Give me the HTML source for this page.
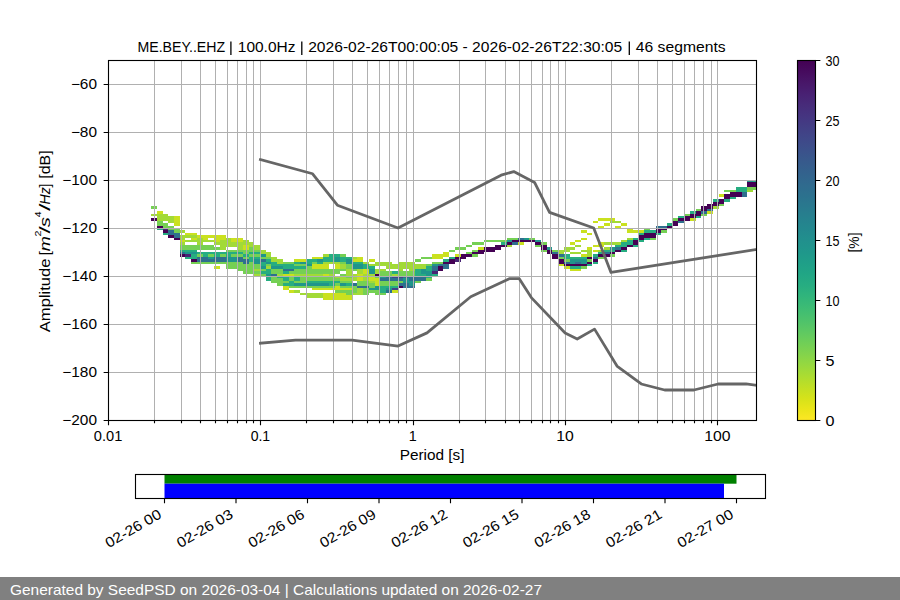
<!DOCTYPE html><html><head><meta charset="utf-8"><style>html,body{margin:0;padding:0;background:#fff;}svg{display:block}</style></head><body>
<svg width="900" height="600" viewBox="0 0 900 600" font-family='"Liberation Sans", sans-serif' font-size="13.9">
<rect width="900" height="600" fill="#fff"/>
<defs><clipPath id="axclip"><rect x="108.50" y="60.50" width="648.00" height="360.00"/></clipPath>
<linearGradient id="cbg" x1="0" y1="0" x2="0" y2="1"><stop offset="0.0000" stop-color="#440154"/><stop offset="0.0312" stop-color="#460b5e"/><stop offset="0.0625" stop-color="#481769"/><stop offset="0.0938" stop-color="#482173"/><stop offset="0.1250" stop-color="#472c7a"/><stop offset="0.1562" stop-color="#453581"/><stop offset="0.1875" stop-color="#423f85"/><stop offset="0.2188" stop-color="#3f4889"/><stop offset="0.2500" stop-color="#3b518b"/><stop offset="0.2812" stop-color="#375a8c"/><stop offset="0.3125" stop-color="#33628d"/><stop offset="0.3438" stop-color="#306a8e"/><stop offset="0.3750" stop-color="#2c718e"/><stop offset="0.4062" stop-color="#29798e"/><stop offset="0.4375" stop-color="#26818e"/><stop offset="0.4688" stop-color="#23888e"/><stop offset="0.5000" stop-color="#21908d"/><stop offset="0.5312" stop-color="#1f978b"/><stop offset="0.5625" stop-color="#1f9f88"/><stop offset="0.5938" stop-color="#21a685"/><stop offset="0.6250" stop-color="#27ad81"/><stop offset="0.6562" stop-color="#31b57b"/><stop offset="0.6875" stop-color="#3dbc74"/><stop offset="0.7188" stop-color="#4cc26c"/><stop offset="0.7500" stop-color="#5cc863"/><stop offset="0.7812" stop-color="#6ece58"/><stop offset="0.8125" stop-color="#81d34d"/><stop offset="0.8438" stop-color="#95d840"/><stop offset="0.8750" stop-color="#aadc32"/><stop offset="0.9062" stop-color="#c0df25"/><stop offset="0.9375" stop-color="#d5e21a"/><stop offset="0.9688" stop-color="#eae51a"/><stop offset="1.0000" stop-color="#fde725"/></linearGradient></defs>
<g clip-path="url(#axclip)">
<g shape-rendering="crispEdges"><rect x="151.08" y="206.40" width="5.73" height="2.40" fill="#75d054"/><rect x="151.08" y="213.60" width="5.73" height="2.40" fill="#a2da37"/><rect x="151.08" y="218.40" width="5.73" height="2.40" fill="#440154"/><rect x="156.81" y="211.20" width="5.73" height="2.40" fill="#cae11f"/><rect x="156.81" y="213.60" width="5.73" height="2.40" fill="#a2da37"/><rect x="156.81" y="216.00" width="5.73" height="2.40" fill="#a2da37"/><rect x="156.81" y="218.40" width="5.73" height="2.40" fill="#a2da37"/><rect x="156.81" y="220.80" width="5.73" height="2.40" fill="#75d054"/><rect x="156.81" y="223.20" width="5.73" height="2.40" fill="#75d054"/><rect x="156.81" y="225.60" width="5.73" height="2.40" fill="#440154"/><rect x="156.81" y="228.00" width="5.73" height="2.40" fill="#26ad81"/><rect x="162.54" y="213.60" width="5.73" height="2.40" fill="#a2da37"/><rect x="162.54" y="216.00" width="5.73" height="2.40" fill="#a2da37"/><rect x="162.54" y="218.40" width="5.73" height="2.40" fill="#a2da37"/><rect x="162.54" y="223.20" width="5.73" height="2.40" fill="#75d054"/><rect x="162.54" y="225.60" width="5.73" height="2.40" fill="#75d054"/><rect x="162.54" y="228.00" width="5.73" height="2.40" fill="#482475"/><rect x="162.54" y="230.40" width="5.73" height="2.40" fill="#440154"/><rect x="162.54" y="232.80" width="5.73" height="2.40" fill="#26ad81"/><rect x="168.27" y="216.00" width="5.73" height="2.40" fill="#a2da37"/><rect x="168.27" y="218.40" width="5.73" height="2.40" fill="#a2da37"/><rect x="168.27" y="220.80" width="5.73" height="2.40" fill="#a2da37"/><rect x="168.27" y="225.60" width="5.73" height="2.40" fill="#75d054"/><rect x="168.27" y="228.00" width="5.73" height="2.40" fill="#75d054"/><rect x="168.27" y="230.40" width="5.73" height="2.40" fill="#2e6f8e"/><rect x="168.27" y="232.80" width="5.73" height="2.40" fill="#2e6f8e"/><rect x="168.27" y="235.20" width="5.73" height="2.40" fill="#440154"/><rect x="174.01" y="216.00" width="5.73" height="2.40" fill="#cae11f"/><rect x="174.01" y="218.40" width="5.73" height="2.40" fill="#cae11f"/><rect x="174.01" y="220.80" width="5.73" height="2.40" fill="#cae11f"/><rect x="174.01" y="223.20" width="5.73" height="2.40" fill="#cae11f"/><rect x="174.01" y="228.00" width="5.73" height="2.40" fill="#75d054"/><rect x="174.01" y="230.40" width="5.73" height="2.40" fill="#75d054"/><rect x="174.01" y="232.80" width="5.73" height="2.40" fill="#2e6f8e"/><rect x="174.01" y="235.20" width="5.73" height="2.40" fill="#2e6f8e"/><rect x="174.01" y="237.60" width="5.73" height="2.40" fill="#440154"/><rect x="179.74" y="230.40" width="5.73" height="2.40" fill="#a2da37"/><rect x="179.74" y="235.20" width="5.73" height="2.40" fill="#a2da37"/><rect x="179.74" y="237.60" width="5.73" height="2.40" fill="#a2da37"/><rect x="179.74" y="240.00" width="5.73" height="2.40" fill="#cae11f"/><rect x="179.74" y="242.40" width="5.73" height="2.40" fill="#a2da37"/><rect x="179.74" y="244.80" width="5.73" height="2.40" fill="#75d054"/><rect x="179.74" y="247.20" width="5.73" height="2.40" fill="#75d054"/><rect x="179.74" y="249.60" width="5.73" height="2.40" fill="#26ad81"/><rect x="179.74" y="252.00" width="5.73" height="2.40" fill="#2e6f8e"/><rect x="179.74" y="254.40" width="5.73" height="2.40" fill="#440154"/><rect x="185.47" y="232.80" width="5.73" height="2.40" fill="#cae11f"/><rect x="185.47" y="235.20" width="5.73" height="2.40" fill="#a2da37"/><rect x="185.47" y="240.00" width="5.73" height="2.40" fill="#a2da37"/><rect x="185.47" y="244.80" width="5.73" height="2.40" fill="#75d054"/><rect x="185.47" y="247.20" width="5.73" height="2.40" fill="#75d054"/><rect x="185.47" y="249.60" width="5.73" height="2.40" fill="#26ad81"/><rect x="185.47" y="252.00" width="5.73" height="2.40" fill="#1f958b"/><rect x="185.47" y="254.40" width="5.73" height="2.40" fill="#482475"/><rect x="185.47" y="256.80" width="5.73" height="2.40" fill="#26ad81"/><rect x="191.20" y="232.80" width="5.73" height="2.40" fill="#cae11f"/><rect x="191.20" y="235.20" width="5.73" height="2.40" fill="#a2da37"/><rect x="191.20" y="237.60" width="5.73" height="2.40" fill="#cae11f"/><rect x="191.20" y="240.00" width="5.73" height="2.40" fill="#a2da37"/><rect x="191.20" y="244.80" width="5.73" height="2.40" fill="#75d054"/><rect x="191.20" y="247.20" width="5.73" height="2.40" fill="#75d054"/><rect x="191.20" y="249.60" width="5.73" height="2.40" fill="#26ad81"/><rect x="191.20" y="252.00" width="5.73" height="2.40" fill="#1f958b"/><rect x="191.20" y="254.40" width="5.73" height="2.40" fill="#26ad81"/><rect x="191.20" y="256.80" width="5.73" height="2.40" fill="#26ad81"/><rect x="191.20" y="259.20" width="5.73" height="2.40" fill="#440154"/><rect x="191.20" y="261.60" width="5.73" height="2.40" fill="#75d054"/><rect x="196.94" y="235.20" width="5.73" height="2.40" fill="#cae11f"/><rect x="196.94" y="237.60" width="5.73" height="2.40" fill="#a2da37"/><rect x="196.94" y="240.00" width="5.73" height="2.40" fill="#a2da37"/><rect x="196.94" y="242.40" width="5.73" height="2.40" fill="#a2da37"/><rect x="196.94" y="244.80" width="5.73" height="2.40" fill="#75d054"/><rect x="196.94" y="247.20" width="5.73" height="2.40" fill="#75d054"/><rect x="196.94" y="252.00" width="5.73" height="2.40" fill="#26ad81"/><rect x="196.94" y="254.40" width="5.73" height="2.40" fill="#75d054"/><rect x="196.94" y="256.80" width="5.73" height="2.40" fill="#2e6f8e"/><rect x="196.94" y="259.20" width="5.73" height="2.40" fill="#2e6f8e"/><rect x="196.94" y="261.60" width="5.73" height="2.40" fill="#75d054"/><rect x="202.67" y="235.20" width="5.73" height="2.40" fill="#cae11f"/><rect x="202.67" y="237.60" width="5.73" height="2.40" fill="#cae11f"/><rect x="202.67" y="240.00" width="5.73" height="2.40" fill="#a2da37"/><rect x="202.67" y="244.80" width="5.73" height="2.40" fill="#75d054"/><rect x="202.67" y="247.20" width="5.73" height="2.40" fill="#75d054"/><rect x="202.67" y="252.00" width="5.73" height="2.40" fill="#26ad81"/><rect x="202.67" y="254.40" width="5.73" height="2.40" fill="#26ad81"/><rect x="202.67" y="256.80" width="5.73" height="2.40" fill="#2e6f8e"/><rect x="202.67" y="259.20" width="5.73" height="2.40" fill="#2e6f8e"/><rect x="202.67" y="261.60" width="5.73" height="2.40" fill="#75d054"/><rect x="208.40" y="235.20" width="5.73" height="2.40" fill="#cae11f"/><rect x="208.40" y="240.00" width="5.73" height="2.40" fill="#a2da37"/><rect x="208.40" y="244.80" width="5.73" height="2.40" fill="#75d054"/><rect x="208.40" y="247.20" width="5.73" height="2.40" fill="#75d054"/><rect x="208.40" y="252.00" width="5.73" height="2.40" fill="#26ad81"/><rect x="208.40" y="254.40" width="5.73" height="2.40" fill="#75d054"/><rect x="208.40" y="256.80" width="5.73" height="2.40" fill="#1f958b"/><rect x="208.40" y="259.20" width="5.73" height="2.40" fill="#2e6f8e"/><rect x="208.40" y="261.60" width="5.73" height="2.40" fill="#75d054"/><rect x="214.14" y="235.20" width="5.73" height="2.40" fill="#cae11f"/><rect x="214.14" y="237.60" width="5.73" height="2.40" fill="#cae11f"/><rect x="214.14" y="240.00" width="5.73" height="2.40" fill="#cae11f"/><rect x="214.14" y="242.40" width="5.73" height="2.40" fill="#a2da37"/><rect x="214.14" y="247.20" width="5.73" height="2.40" fill="#75d054"/><rect x="214.14" y="252.00" width="5.73" height="2.40" fill="#26ad81"/><rect x="214.14" y="254.40" width="5.73" height="2.40" fill="#26ad81"/><rect x="214.14" y="256.80" width="5.73" height="2.40" fill="#2e6f8e"/><rect x="214.14" y="259.20" width="5.73" height="2.40" fill="#2e6f8e"/><rect x="214.14" y="261.60" width="5.73" height="2.40" fill="#75d054"/><rect x="214.14" y="266.40" width="5.73" height="2.40" fill="#cae11f"/><rect x="219.87" y="235.20" width="5.73" height="2.40" fill="#cae11f"/><rect x="219.87" y="237.60" width="5.73" height="2.40" fill="#cae11f"/><rect x="219.87" y="240.00" width="5.73" height="2.40" fill="#a2da37"/><rect x="219.87" y="242.40" width="5.73" height="2.40" fill="#a2da37"/><rect x="219.87" y="244.80" width="5.73" height="2.40" fill="#a2da37"/><rect x="219.87" y="247.20" width="5.73" height="2.40" fill="#a2da37"/><rect x="219.87" y="252.00" width="5.73" height="2.40" fill="#26ad81"/><rect x="219.87" y="254.40" width="5.73" height="2.40" fill="#75d054"/><rect x="219.87" y="256.80" width="5.73" height="2.40" fill="#2e6f8e"/><rect x="219.87" y="259.20" width="5.73" height="2.40" fill="#2e6f8e"/><rect x="219.87" y="261.60" width="5.73" height="2.40" fill="#75d054"/><rect x="225.60" y="237.60" width="5.73" height="2.40" fill="#a2da37"/><rect x="225.60" y="240.00" width="5.73" height="2.40" fill="#a2da37"/><rect x="225.60" y="242.40" width="5.73" height="2.40" fill="#a2da37"/><rect x="225.60" y="244.80" width="5.73" height="2.40" fill="#a2da37"/><rect x="225.60" y="249.60" width="5.73" height="2.40" fill="#75d054"/><rect x="225.60" y="252.00" width="5.73" height="2.40" fill="#26ad81"/><rect x="225.60" y="254.40" width="5.73" height="2.40" fill="#26ad81"/><rect x="225.60" y="256.80" width="5.73" height="2.40" fill="#1f958b"/><rect x="225.60" y="259.20" width="5.73" height="2.40" fill="#1f958b"/><rect x="225.60" y="261.60" width="5.73" height="2.40" fill="#75d054"/><rect x="225.60" y="264.00" width="5.73" height="2.40" fill="#75d054"/><rect x="225.60" y="266.40" width="5.73" height="2.40" fill="#75d054"/><rect x="231.33" y="237.60" width="5.73" height="2.40" fill="#cae11f"/><rect x="231.33" y="240.00" width="5.73" height="2.40" fill="#cae11f"/><rect x="231.33" y="242.40" width="5.73" height="2.40" fill="#a2da37"/><rect x="231.33" y="244.80" width="5.73" height="2.40" fill="#a2da37"/><rect x="231.33" y="249.60" width="5.73" height="2.40" fill="#75d054"/><rect x="231.33" y="252.00" width="5.73" height="2.40" fill="#26ad81"/><rect x="231.33" y="254.40" width="5.73" height="2.40" fill="#75d054"/><rect x="231.33" y="256.80" width="5.73" height="2.40" fill="#1f958b"/><rect x="231.33" y="259.20" width="5.73" height="2.40" fill="#1f958b"/><rect x="231.33" y="261.60" width="5.73" height="2.40" fill="#75d054"/><rect x="231.33" y="264.00" width="5.73" height="2.40" fill="#75d054"/><rect x="231.33" y="266.40" width="5.73" height="2.40" fill="#75d054"/><rect x="237.07" y="237.60" width="5.73" height="2.40" fill="#cae11f"/><rect x="237.07" y="240.00" width="5.73" height="2.40" fill="#cae11f"/><rect x="237.07" y="242.40" width="5.73" height="2.40" fill="#a2da37"/><rect x="237.07" y="244.80" width="5.73" height="2.40" fill="#a2da37"/><rect x="237.07" y="247.20" width="5.73" height="2.40" fill="#a2da37"/><rect x="237.07" y="249.60" width="5.73" height="2.40" fill="#75d054"/><rect x="237.07" y="252.00" width="5.73" height="2.40" fill="#26ad81"/><rect x="237.07" y="254.40" width="5.73" height="2.40" fill="#75d054"/><rect x="237.07" y="256.80" width="5.73" height="2.40" fill="#2e6f8e"/><rect x="237.07" y="259.20" width="5.73" height="2.40" fill="#2e6f8e"/><rect x="237.07" y="261.60" width="5.73" height="2.40" fill="#75d054"/><rect x="237.07" y="264.00" width="5.73" height="2.40" fill="#75d054"/><rect x="237.07" y="266.40" width="5.73" height="2.40" fill="#75d054"/><rect x="237.07" y="268.80" width="5.73" height="2.40" fill="#75d054"/><rect x="242.80" y="240.00" width="5.73" height="2.40" fill="#a2da37"/><rect x="242.80" y="242.40" width="5.73" height="2.40" fill="#a2da37"/><rect x="242.80" y="244.80" width="5.73" height="2.40" fill="#cae11f"/><rect x="242.80" y="247.20" width="5.73" height="2.40" fill="#cae11f"/><rect x="242.80" y="249.60" width="5.73" height="2.40" fill="#75d054"/><rect x="242.80" y="252.00" width="5.73" height="2.40" fill="#75d054"/><rect x="242.80" y="254.40" width="5.73" height="2.40" fill="#26ad81"/><rect x="242.80" y="256.80" width="5.73" height="2.40" fill="#75d054"/><rect x="242.80" y="259.20" width="5.73" height="2.40" fill="#2e6f8e"/><rect x="242.80" y="261.60" width="5.73" height="2.40" fill="#2e6f8e"/><rect x="242.80" y="264.00" width="5.73" height="2.40" fill="#75d054"/><rect x="242.80" y="266.40" width="5.73" height="2.40" fill="#75d054"/><rect x="242.80" y="268.80" width="5.73" height="2.40" fill="#75d054"/><rect x="242.80" y="271.20" width="5.73" height="2.40" fill="#75d054"/><rect x="248.53" y="242.40" width="5.73" height="2.40" fill="#a2da37"/><rect x="248.53" y="244.80" width="5.73" height="2.40" fill="#a2da37"/><rect x="248.53" y="247.20" width="5.73" height="2.40" fill="#75d054"/><rect x="248.53" y="249.60" width="5.73" height="2.40" fill="#75d054"/><rect x="248.53" y="252.00" width="5.73" height="2.40" fill="#26ad81"/><rect x="248.53" y="254.40" width="5.73" height="2.40" fill="#75d054"/><rect x="248.53" y="256.80" width="5.73" height="2.40" fill="#26ad81"/><rect x="248.53" y="259.20" width="5.73" height="2.40" fill="#26ad81"/><rect x="248.53" y="261.60" width="5.73" height="2.40" fill="#75d054"/><rect x="248.53" y="264.00" width="5.73" height="2.40" fill="#75d054"/><rect x="248.53" y="266.40" width="5.73" height="2.40" fill="#75d054"/><rect x="248.53" y="268.80" width="5.73" height="2.40" fill="#75d054"/><rect x="248.53" y="271.20" width="5.73" height="2.40" fill="#75d054"/><rect x="254.26" y="244.80" width="5.73" height="2.40" fill="#a2da37"/><rect x="254.26" y="247.20" width="5.73" height="2.40" fill="#a2da37"/><rect x="254.26" y="249.60" width="5.73" height="2.40" fill="#75d054"/><rect x="254.26" y="252.00" width="5.73" height="2.40" fill="#26ad81"/><rect x="254.26" y="254.40" width="5.73" height="2.40" fill="#75d054"/><rect x="254.26" y="256.80" width="5.73" height="2.40" fill="#26ad81"/><rect x="254.26" y="259.20" width="5.73" height="2.40" fill="#1f958b"/><rect x="254.26" y="261.60" width="5.73" height="2.40" fill="#1f958b"/><rect x="254.26" y="264.00" width="5.73" height="2.40" fill="#75d054"/><rect x="254.26" y="266.40" width="5.73" height="2.40" fill="#75d054"/><rect x="254.26" y="268.80" width="5.73" height="2.40" fill="#a2da37"/><rect x="254.26" y="271.20" width="5.73" height="2.40" fill="#75d054"/><rect x="254.26" y="273.60" width="5.73" height="2.40" fill="#a2da37"/><rect x="260.00" y="249.60" width="5.73" height="2.40" fill="#a2da37"/><rect x="260.00" y="252.00" width="5.73" height="2.40" fill="#a2da37"/><rect x="260.00" y="254.40" width="5.73" height="2.40" fill="#1f958b"/><rect x="260.00" y="256.80" width="5.73" height="2.40" fill="#75d054"/><rect x="260.00" y="259.20" width="5.73" height="2.40" fill="#2e6f8e"/><rect x="260.00" y="261.60" width="5.73" height="2.40" fill="#26ad81"/><rect x="260.00" y="264.00" width="5.73" height="2.40" fill="#26ad81"/><rect x="260.00" y="266.40" width="5.73" height="2.40" fill="#1f958b"/><rect x="260.00" y="268.80" width="5.73" height="2.40" fill="#75d054"/><rect x="260.00" y="271.20" width="5.73" height="2.40" fill="#26ad81"/><rect x="260.00" y="273.60" width="5.73" height="2.40" fill="#75d054"/><rect x="265.73" y="252.00" width="5.73" height="2.40" fill="#a2da37"/><rect x="265.73" y="254.40" width="5.73" height="2.40" fill="#a2da37"/><rect x="265.73" y="256.80" width="5.73" height="2.40" fill="#75d054"/><rect x="265.73" y="259.20" width="5.73" height="2.40" fill="#26ad81"/><rect x="265.73" y="261.60" width="5.73" height="2.40" fill="#1f958b"/><rect x="265.73" y="264.00" width="5.73" height="2.40" fill="#75d054"/><rect x="265.73" y="266.40" width="5.73" height="2.40" fill="#a2da37"/><rect x="265.73" y="268.80" width="5.73" height="2.40" fill="#26ad81"/><rect x="265.73" y="271.20" width="5.73" height="2.40" fill="#26ad81"/><rect x="265.73" y="273.60" width="5.73" height="2.40" fill="#1f958b"/><rect x="265.73" y="276.00" width="5.73" height="2.40" fill="#26ad81"/><rect x="265.73" y="278.40" width="5.73" height="2.40" fill="#26ad81"/><rect x="271.46" y="256.80" width="5.73" height="2.40" fill="#a2da37"/><rect x="271.46" y="259.20" width="5.73" height="2.40" fill="#a2da37"/><rect x="271.46" y="261.60" width="5.73" height="2.40" fill="#26ad81"/><rect x="271.46" y="264.00" width="5.73" height="2.40" fill="#26ad81"/><rect x="271.46" y="266.40" width="5.73" height="2.40" fill="#1f958b"/><rect x="271.46" y="268.80" width="5.73" height="2.40" fill="#75d054"/><rect x="271.46" y="271.20" width="5.73" height="2.40" fill="#75d054"/><rect x="271.46" y="273.60" width="5.73" height="2.40" fill="#2e6f8e"/><rect x="271.46" y="276.00" width="5.73" height="2.40" fill="#75d054"/><rect x="271.46" y="278.40" width="5.73" height="2.40" fill="#75d054"/><rect x="271.46" y="280.80" width="5.73" height="2.40" fill="#75d054"/><rect x="277.20" y="259.20" width="5.73" height="2.40" fill="#a2da37"/><rect x="277.20" y="261.60" width="5.73" height="2.40" fill="#a2da37"/><rect x="277.20" y="264.00" width="5.73" height="2.40" fill="#26ad81"/><rect x="277.20" y="266.40" width="5.73" height="2.40" fill="#1f958b"/><rect x="277.20" y="268.80" width="5.73" height="2.40" fill="#75d054"/><rect x="277.20" y="271.20" width="5.73" height="2.40" fill="#75d054"/><rect x="277.20" y="273.60" width="5.73" height="2.40" fill="#a2da37"/><rect x="277.20" y="276.00" width="5.73" height="2.40" fill="#26ad81"/><rect x="277.20" y="278.40" width="5.73" height="2.40" fill="#75d054"/><rect x="277.20" y="280.80" width="5.73" height="2.40" fill="#75d054"/><rect x="277.20" y="283.20" width="5.73" height="2.40" fill="#75d054"/><rect x="282.93" y="261.60" width="5.73" height="2.40" fill="#75d054"/><rect x="282.93" y="264.00" width="5.73" height="2.40" fill="#26ad81"/><rect x="282.93" y="266.40" width="5.73" height="2.40" fill="#26ad81"/><rect x="282.93" y="268.80" width="5.73" height="2.40" fill="#2e6f8e"/><rect x="282.93" y="271.20" width="5.73" height="2.40" fill="#26ad81"/><rect x="282.93" y="273.60" width="5.73" height="2.40" fill="#cae11f"/><rect x="282.93" y="276.00" width="5.73" height="2.40" fill="#26ad81"/><rect x="282.93" y="278.40" width="5.73" height="2.40" fill="#26ad81"/><rect x="282.93" y="280.80" width="5.73" height="2.40" fill="#75d054"/><rect x="282.93" y="283.20" width="5.73" height="2.40" fill="#26ad81"/><rect x="282.93" y="285.60" width="5.73" height="2.40" fill="#cae11f"/><rect x="282.93" y="288.00" width="5.73" height="2.40" fill="#cae11f"/><rect x="288.66" y="261.60" width="5.73" height="2.40" fill="#75d054"/><rect x="288.66" y="264.00" width="5.73" height="2.40" fill="#26ad81"/><rect x="288.66" y="266.40" width="5.73" height="2.40" fill="#26ad81"/><rect x="288.66" y="268.80" width="5.73" height="2.40" fill="#2e6f8e"/><rect x="288.66" y="271.20" width="5.73" height="2.40" fill="#75d054"/><rect x="288.66" y="273.60" width="5.73" height="2.40" fill="#cae11f"/><rect x="288.66" y="276.00" width="5.73" height="2.40" fill="#75d054"/><rect x="288.66" y="278.40" width="5.73" height="2.40" fill="#75d054"/><rect x="288.66" y="280.80" width="5.73" height="2.40" fill="#26ad81"/><rect x="288.66" y="283.20" width="5.73" height="2.40" fill="#26ad81"/><rect x="288.66" y="285.60" width="5.73" height="2.40" fill="#75d054"/><rect x="288.66" y="290.40" width="5.73" height="2.40" fill="#cae11f"/><rect x="294.39" y="259.20" width="5.73" height="2.40" fill="#cae11f"/><rect x="294.39" y="261.60" width="5.73" height="2.40" fill="#26ad81"/><rect x="294.39" y="264.00" width="5.73" height="2.40" fill="#75d054"/><rect x="294.39" y="266.40" width="5.73" height="2.40" fill="#26ad81"/><rect x="294.39" y="268.80" width="5.73" height="2.40" fill="#75d054"/><rect x="294.39" y="271.20" width="5.73" height="2.40" fill="#75d054"/><rect x="294.39" y="273.60" width="5.73" height="2.40" fill="#a2da37"/><rect x="294.39" y="276.00" width="5.73" height="2.40" fill="#26ad81"/><rect x="294.39" y="278.40" width="5.73" height="2.40" fill="#26ad81"/><rect x="294.39" y="280.80" width="5.73" height="2.40" fill="#75d054"/><rect x="294.39" y="283.20" width="5.73" height="2.40" fill="#1f958b"/><rect x="294.39" y="285.60" width="5.73" height="2.40" fill="#75d054"/><rect x="294.39" y="290.40" width="5.73" height="2.40" fill="#a2da37"/><rect x="300.13" y="259.20" width="5.73" height="2.40" fill="#cae11f"/><rect x="300.13" y="261.60" width="5.73" height="2.40" fill="#1f958b"/><rect x="300.13" y="264.00" width="5.73" height="2.40" fill="#75d054"/><rect x="300.13" y="266.40" width="5.73" height="2.40" fill="#26ad81"/><rect x="300.13" y="268.80" width="5.73" height="2.40" fill="#75d054"/><rect x="300.13" y="271.20" width="5.73" height="2.40" fill="#75d054"/><rect x="300.13" y="273.60" width="5.73" height="2.40" fill="#a2da37"/><rect x="300.13" y="276.00" width="5.73" height="2.40" fill="#75d054"/><rect x="300.13" y="278.40" width="5.73" height="2.40" fill="#75d054"/><rect x="300.13" y="280.80" width="5.73" height="2.40" fill="#75d054"/><rect x="300.13" y="283.20" width="5.73" height="2.40" fill="#1f958b"/><rect x="300.13" y="285.60" width="5.73" height="2.40" fill="#75d054"/><rect x="300.13" y="292.80" width="5.73" height="2.40" fill="#a2da37"/><rect x="305.86" y="259.20" width="5.73" height="2.40" fill="#26ad81"/><rect x="305.86" y="261.60" width="5.73" height="2.40" fill="#26ad81"/><rect x="305.86" y="264.00" width="5.73" height="2.40" fill="#1f958b"/><rect x="305.86" y="266.40" width="5.73" height="2.40" fill="#75d054"/><rect x="305.86" y="268.80" width="5.73" height="2.40" fill="#75d054"/><rect x="305.86" y="271.20" width="5.73" height="2.40" fill="#75d054"/><rect x="305.86" y="273.60" width="5.73" height="2.40" fill="#a2da37"/><rect x="305.86" y="276.00" width="5.73" height="2.40" fill="#75d054"/><rect x="305.86" y="278.40" width="5.73" height="2.40" fill="#75d054"/><rect x="305.86" y="280.80" width="5.73" height="2.40" fill="#26ad81"/><rect x="305.86" y="283.20" width="5.73" height="2.40" fill="#1f958b"/><rect x="305.86" y="285.60" width="5.73" height="2.40" fill="#75d054"/><rect x="305.86" y="292.80" width="5.73" height="2.40" fill="#a2da37"/><rect x="305.86" y="295.20" width="5.73" height="2.40" fill="#a2da37"/><rect x="311.59" y="256.80" width="5.73" height="2.40" fill="#cae11f"/><rect x="311.59" y="259.20" width="5.73" height="2.40" fill="#26ad81"/><rect x="311.59" y="261.60" width="5.73" height="2.40" fill="#75d054"/><rect x="311.59" y="264.00" width="5.73" height="2.40" fill="#cae11f"/><rect x="311.59" y="266.40" width="5.73" height="2.40" fill="#cae11f"/><rect x="311.59" y="268.80" width="5.73" height="2.40" fill="#75d054"/><rect x="311.59" y="271.20" width="5.73" height="2.40" fill="#75d054"/><rect x="311.59" y="273.60" width="5.73" height="2.40" fill="#a2da37"/><rect x="311.59" y="276.00" width="5.73" height="2.40" fill="#75d054"/><rect x="311.59" y="278.40" width="5.73" height="2.40" fill="#75d054"/><rect x="311.59" y="280.80" width="5.73" height="2.40" fill="#26ad81"/><rect x="311.59" y="283.20" width="5.73" height="2.40" fill="#1f958b"/><rect x="311.59" y="285.60" width="5.73" height="2.40" fill="#75d054"/><rect x="311.59" y="288.00" width="5.73" height="2.40" fill="#cae11f"/><rect x="311.59" y="292.80" width="5.73" height="2.40" fill="#a2da37"/><rect x="311.59" y="295.20" width="5.73" height="2.40" fill="#a2da37"/><rect x="317.33" y="256.80" width="5.73" height="2.40" fill="#cae11f"/><rect x="317.33" y="259.20" width="5.73" height="2.40" fill="#1f958b"/><rect x="317.33" y="261.60" width="5.73" height="2.40" fill="#26ad81"/><rect x="317.33" y="264.00" width="5.73" height="2.40" fill="#cae11f"/><rect x="317.33" y="266.40" width="5.73" height="2.40" fill="#cae11f"/><rect x="317.33" y="268.80" width="5.73" height="2.40" fill="#75d054"/><rect x="317.33" y="271.20" width="5.73" height="2.40" fill="#75d054"/><rect x="317.33" y="273.60" width="5.73" height="2.40" fill="#a2da37"/><rect x="317.33" y="276.00" width="5.73" height="2.40" fill="#75d054"/><rect x="317.33" y="278.40" width="5.73" height="2.40" fill="#75d054"/><rect x="317.33" y="280.80" width="5.73" height="2.40" fill="#26ad81"/><rect x="317.33" y="283.20" width="5.73" height="2.40" fill="#1f958b"/><rect x="317.33" y="285.60" width="5.73" height="2.40" fill="#75d054"/><rect x="317.33" y="288.00" width="5.73" height="2.40" fill="#cae11f"/><rect x="317.33" y="292.80" width="5.73" height="2.40" fill="#a2da37"/><rect x="317.33" y="295.20" width="5.73" height="2.40" fill="#a2da37"/><rect x="323.06" y="254.40" width="5.73" height="2.40" fill="#a2da37"/><rect x="323.06" y="256.80" width="5.73" height="2.40" fill="#26ad81"/><rect x="323.06" y="259.20" width="5.73" height="2.40" fill="#26ad81"/><rect x="323.06" y="261.60" width="5.73" height="2.40" fill="#a2da37"/><rect x="323.06" y="264.00" width="5.73" height="2.40" fill="#cae11f"/><rect x="323.06" y="266.40" width="5.73" height="2.40" fill="#cae11f"/><rect x="323.06" y="268.80" width="5.73" height="2.40" fill="#75d054"/><rect x="323.06" y="271.20" width="5.73" height="2.40" fill="#75d054"/><rect x="323.06" y="273.60" width="5.73" height="2.40" fill="#cae11f"/><rect x="323.06" y="276.00" width="5.73" height="2.40" fill="#75d054"/><rect x="323.06" y="278.40" width="5.73" height="2.40" fill="#75d054"/><rect x="323.06" y="280.80" width="5.73" height="2.40" fill="#26ad81"/><rect x="323.06" y="283.20" width="5.73" height="2.40" fill="#1f958b"/><rect x="323.06" y="285.60" width="5.73" height="2.40" fill="#75d054"/><rect x="323.06" y="288.00" width="5.73" height="2.40" fill="#cae11f"/><rect x="323.06" y="292.80" width="5.73" height="2.40" fill="#cae11f"/><rect x="323.06" y="295.20" width="5.73" height="2.40" fill="#cae11f"/><rect x="323.06" y="297.60" width="5.73" height="2.40" fill="#cae11f"/><rect x="328.79" y="254.40" width="5.73" height="2.40" fill="#26ad81"/><rect x="328.79" y="256.80" width="5.73" height="2.40" fill="#26ad81"/><rect x="328.79" y="259.20" width="5.73" height="2.40" fill="#26ad81"/><rect x="328.79" y="261.60" width="5.73" height="2.40" fill="#a2da37"/><rect x="328.79" y="268.80" width="5.73" height="2.40" fill="#75d054"/><rect x="328.79" y="271.20" width="5.73" height="2.40" fill="#75d054"/><rect x="328.79" y="273.60" width="5.73" height="2.40" fill="#a2da37"/><rect x="328.79" y="276.00" width="5.73" height="2.40" fill="#75d054"/><rect x="328.79" y="278.40" width="5.73" height="2.40" fill="#75d054"/><rect x="328.79" y="280.80" width="5.73" height="2.40" fill="#26ad81"/><rect x="328.79" y="283.20" width="5.73" height="2.40" fill="#26ad81"/><rect x="328.79" y="285.60" width="5.73" height="2.40" fill="#75d054"/><rect x="328.79" y="288.00" width="5.73" height="2.40" fill="#cae11f"/><rect x="328.79" y="292.80" width="5.73" height="2.40" fill="#cae11f"/><rect x="328.79" y="295.20" width="5.73" height="2.40" fill="#cae11f"/><rect x="328.79" y="297.60" width="5.73" height="2.40" fill="#cae11f"/><rect x="334.52" y="254.40" width="5.73" height="2.40" fill="#26ad81"/><rect x="334.52" y="256.80" width="5.73" height="2.40" fill="#1f958b"/><rect x="334.52" y="259.20" width="5.73" height="2.40" fill="#1f958b"/><rect x="334.52" y="261.60" width="5.73" height="2.40" fill="#a2da37"/><rect x="334.52" y="264.00" width="5.73" height="2.40" fill="#cae11f"/><rect x="334.52" y="266.40" width="5.73" height="2.40" fill="#cae11f"/><rect x="334.52" y="268.80" width="5.73" height="2.40" fill="#75d054"/><rect x="334.52" y="271.20" width="5.73" height="2.40" fill="#75d054"/><rect x="334.52" y="276.00" width="5.73" height="2.40" fill="#a2da37"/><rect x="334.52" y="278.40" width="5.73" height="2.40" fill="#75d054"/><rect x="334.52" y="280.80" width="5.73" height="2.40" fill="#26ad81"/><rect x="334.52" y="283.20" width="5.73" height="2.40" fill="#75d054"/><rect x="334.52" y="285.60" width="5.73" height="2.40" fill="#cae11f"/><rect x="334.52" y="288.00" width="5.73" height="2.40" fill="#cae11f"/><rect x="334.52" y="290.40" width="5.73" height="2.40" fill="#75d054"/><rect x="334.52" y="292.80" width="5.73" height="2.40" fill="#cae11f"/><rect x="334.52" y="295.20" width="5.73" height="2.40" fill="#cae11f"/><rect x="334.52" y="297.60" width="5.73" height="2.40" fill="#cae11f"/><rect x="340.26" y="254.40" width="5.73" height="2.40" fill="#75d054"/><rect x="340.26" y="256.80" width="5.73" height="2.40" fill="#26ad81"/><rect x="340.26" y="259.20" width="5.73" height="2.40" fill="#26ad81"/><rect x="340.26" y="261.60" width="5.73" height="2.40" fill="#75d054"/><rect x="340.26" y="264.00" width="5.73" height="2.40" fill="#a2da37"/><rect x="340.26" y="266.40" width="5.73" height="2.40" fill="#a2da37"/><rect x="340.26" y="268.80" width="5.73" height="2.40" fill="#75d054"/><rect x="340.26" y="273.60" width="5.73" height="2.40" fill="#75d054"/><rect x="340.26" y="276.00" width="5.73" height="2.40" fill="#a2da37"/><rect x="340.26" y="278.40" width="5.73" height="2.40" fill="#a2da37"/><rect x="340.26" y="280.80" width="5.73" height="2.40" fill="#75d054"/><rect x="340.26" y="283.20" width="5.73" height="2.40" fill="#1f958b"/><rect x="340.26" y="285.60" width="5.73" height="2.40" fill="#75d054"/><rect x="340.26" y="288.00" width="5.73" height="2.40" fill="#cae11f"/><rect x="340.26" y="290.40" width="5.73" height="2.40" fill="#75d054"/><rect x="340.26" y="292.80" width="5.73" height="2.40" fill="#cae11f"/><rect x="340.26" y="295.20" width="5.73" height="2.40" fill="#cae11f"/><rect x="340.26" y="297.60" width="5.73" height="2.40" fill="#cae11f"/><rect x="345.99" y="256.80" width="5.73" height="2.40" fill="#26ad81"/><rect x="345.99" y="259.20" width="5.73" height="2.40" fill="#1f958b"/><rect x="345.99" y="261.60" width="5.73" height="2.40" fill="#1f958b"/><rect x="345.99" y="264.00" width="5.73" height="2.40" fill="#75d054"/><rect x="345.99" y="266.40" width="5.73" height="2.40" fill="#75d054"/><rect x="345.99" y="268.80" width="5.73" height="2.40" fill="#a2da37"/><rect x="345.99" y="271.20" width="5.73" height="2.40" fill="#a2da37"/><rect x="345.99" y="273.60" width="5.73" height="2.40" fill="#a2da37"/><rect x="345.99" y="276.00" width="5.73" height="2.40" fill="#75d054"/><rect x="345.99" y="278.40" width="5.73" height="2.40" fill="#a2da37"/><rect x="345.99" y="280.80" width="5.73" height="2.40" fill="#75d054"/><rect x="345.99" y="283.20" width="5.73" height="2.40" fill="#26ad81"/><rect x="345.99" y="285.60" width="5.73" height="2.40" fill="#75d054"/><rect x="345.99" y="288.00" width="5.73" height="2.40" fill="#cae11f"/><rect x="345.99" y="290.40" width="5.73" height="2.40" fill="#75d054"/><rect x="345.99" y="292.80" width="5.73" height="2.40" fill="#75d054"/><rect x="345.99" y="295.20" width="5.73" height="2.40" fill="#cae11f"/><rect x="345.99" y="297.60" width="5.73" height="2.40" fill="#cae11f"/><rect x="351.72" y="256.80" width="5.73" height="2.40" fill="#a2da37"/><rect x="351.72" y="259.20" width="5.73" height="2.40" fill="#cae11f"/><rect x="351.72" y="261.60" width="5.73" height="2.40" fill="#26ad81"/><rect x="351.72" y="264.00" width="5.73" height="2.40" fill="#1f958b"/><rect x="351.72" y="266.40" width="5.73" height="2.40" fill="#1f958b"/><rect x="351.72" y="268.80" width="5.73" height="2.40" fill="#75d054"/><rect x="351.72" y="273.60" width="5.73" height="2.40" fill="#a2da37"/><rect x="351.72" y="276.00" width="5.73" height="2.40" fill="#a2da37"/><rect x="351.72" y="278.40" width="5.73" height="2.40" fill="#a2da37"/><rect x="351.72" y="283.20" width="5.73" height="2.40" fill="#2e6f8e"/><rect x="351.72" y="285.60" width="5.73" height="2.40" fill="#75d054"/><rect x="351.72" y="288.00" width="5.73" height="2.40" fill="#75d054"/><rect x="351.72" y="290.40" width="5.73" height="2.40" fill="#75d054"/><rect x="351.72" y="292.80" width="5.73" height="2.40" fill="#a2da37"/><rect x="357.45" y="256.80" width="5.73" height="2.40" fill="#cae11f"/><rect x="357.45" y="259.20" width="5.73" height="2.40" fill="#cae11f"/><rect x="357.45" y="261.60" width="5.73" height="2.40" fill="#26ad81"/><rect x="357.45" y="264.00" width="5.73" height="2.40" fill="#1f958b"/><rect x="357.45" y="266.40" width="5.73" height="2.40" fill="#1f958b"/><rect x="357.45" y="268.80" width="5.73" height="2.40" fill="#a2da37"/><rect x="357.45" y="271.20" width="5.73" height="2.40" fill="#a2da37"/><rect x="357.45" y="273.60" width="5.73" height="2.40" fill="#cae11f"/><rect x="357.45" y="276.00" width="5.73" height="2.40" fill="#cae11f"/><rect x="357.45" y="278.40" width="5.73" height="2.40" fill="#cae11f"/><rect x="357.45" y="280.80" width="5.73" height="2.40" fill="#75d054"/><rect x="357.45" y="283.20" width="5.73" height="2.40" fill="#75d054"/><rect x="357.45" y="285.60" width="5.73" height="2.40" fill="#2e6f8e"/><rect x="357.45" y="288.00" width="5.73" height="2.40" fill="#a2da37"/><rect x="357.45" y="290.40" width="5.73" height="2.40" fill="#a2da37"/><rect x="357.45" y="292.80" width="5.73" height="2.40" fill="#a2da37"/><rect x="363.19" y="261.60" width="5.73" height="2.40" fill="#a2da37"/><rect x="363.19" y="264.00" width="5.73" height="2.40" fill="#26ad81"/><rect x="363.19" y="266.40" width="5.73" height="2.40" fill="#26ad81"/><rect x="363.19" y="268.80" width="5.73" height="2.40" fill="#cae11f"/><rect x="363.19" y="271.20" width="5.73" height="2.40" fill="#cae11f"/><rect x="363.19" y="273.60" width="5.73" height="2.40" fill="#a2da37"/><rect x="363.19" y="276.00" width="5.73" height="2.40" fill="#a2da37"/><rect x="363.19" y="278.40" width="5.73" height="2.40" fill="#a2da37"/><rect x="363.19" y="280.80" width="5.73" height="2.40" fill="#75d054"/><rect x="363.19" y="283.20" width="5.73" height="2.40" fill="#75d054"/><rect x="363.19" y="285.60" width="5.73" height="2.40" fill="#2e6f8e"/><rect x="363.19" y="288.00" width="5.73" height="2.40" fill="#75d054"/><rect x="363.19" y="290.40" width="5.73" height="2.40" fill="#75d054"/><rect x="363.19" y="292.80" width="5.73" height="2.40" fill="#75d054"/><rect x="368.92" y="259.20" width="5.73" height="2.40" fill="#cae11f"/><rect x="368.92" y="264.00" width="5.73" height="2.40" fill="#a2da37"/><rect x="368.92" y="266.40" width="5.73" height="2.40" fill="#26ad81"/><rect x="368.92" y="268.80" width="5.73" height="2.40" fill="#1f958b"/><rect x="368.92" y="271.20" width="5.73" height="2.40" fill="#1f958b"/><rect x="368.92" y="273.60" width="5.73" height="2.40" fill="#a2da37"/><rect x="368.92" y="276.00" width="5.73" height="2.40" fill="#cae11f"/><rect x="368.92" y="278.40" width="5.73" height="2.40" fill="#cae11f"/><rect x="368.92" y="280.80" width="5.73" height="2.40" fill="#a2da37"/><rect x="368.92" y="283.20" width="5.73" height="2.40" fill="#75d054"/><rect x="368.92" y="285.60" width="5.73" height="2.40" fill="#75d054"/><rect x="368.92" y="288.00" width="5.73" height="2.40" fill="#1f958b"/><rect x="368.92" y="290.40" width="5.73" height="2.40" fill="#75d054"/><rect x="374.65" y="261.60" width="5.73" height="2.40" fill="#a2da37"/><rect x="374.65" y="264.00" width="5.73" height="2.40" fill="#a2da37"/><rect x="374.65" y="268.80" width="5.73" height="2.40" fill="#a2da37"/><rect x="374.65" y="271.20" width="5.73" height="2.40" fill="#a2da37"/><rect x="374.65" y="273.60" width="5.73" height="2.40" fill="#440154"/><rect x="374.65" y="276.00" width="5.73" height="2.40" fill="#75d054"/><rect x="374.65" y="278.40" width="5.73" height="2.40" fill="#cae11f"/><rect x="374.65" y="280.80" width="5.73" height="2.40" fill="#cae11f"/><rect x="374.65" y="283.20" width="5.73" height="2.40" fill="#cae11f"/><rect x="374.65" y="285.60" width="5.73" height="2.40" fill="#1f958b"/><rect x="374.65" y="288.00" width="5.73" height="2.40" fill="#1f958b"/><rect x="374.65" y="290.40" width="5.73" height="2.40" fill="#75d054"/><rect x="374.65" y="292.80" width="5.73" height="2.40" fill="#75d054"/><rect x="380.39" y="261.60" width="5.73" height="2.40" fill="#a2da37"/><rect x="380.39" y="264.00" width="5.73" height="2.40" fill="#a2da37"/><rect x="380.39" y="268.80" width="5.73" height="2.40" fill="#a2da37"/><rect x="380.39" y="271.20" width="5.73" height="2.40" fill="#75d054"/><rect x="380.39" y="273.60" width="5.73" height="2.40" fill="#75d054"/><rect x="380.39" y="276.00" width="5.73" height="2.40" fill="#1f958b"/><rect x="380.39" y="278.40" width="5.73" height="2.40" fill="#2e6f8e"/><rect x="380.39" y="280.80" width="5.73" height="2.40" fill="#75d054"/><rect x="380.39" y="283.20" width="5.73" height="2.40" fill="#75d054"/><rect x="380.39" y="285.60" width="5.73" height="2.40" fill="#26ad81"/><rect x="380.39" y="288.00" width="5.73" height="2.40" fill="#26ad81"/><rect x="380.39" y="290.40" width="5.73" height="2.40" fill="#26ad81"/><rect x="380.39" y="292.80" width="5.73" height="2.40" fill="#75d054"/><rect x="386.12" y="261.60" width="5.73" height="2.40" fill="#a2da37"/><rect x="386.12" y="264.00" width="5.73" height="2.40" fill="#a2da37"/><rect x="386.12" y="266.40" width="5.73" height="2.40" fill="#a2da37"/><rect x="386.12" y="271.20" width="5.73" height="2.40" fill="#75d054"/><rect x="386.12" y="273.60" width="5.73" height="2.40" fill="#75d054"/><rect x="386.12" y="276.00" width="5.73" height="2.40" fill="#2e6f8e"/><rect x="386.12" y="278.40" width="5.73" height="2.40" fill="#2e6f8e"/><rect x="386.12" y="280.80" width="5.73" height="2.40" fill="#75d054"/><rect x="386.12" y="283.20" width="5.73" height="2.40" fill="#75d054"/><rect x="386.12" y="285.60" width="5.73" height="2.40" fill="#26ad81"/><rect x="386.12" y="288.00" width="5.73" height="2.40" fill="#1f958b"/><rect x="386.12" y="290.40" width="5.73" height="2.40" fill="#2e6f8e"/><rect x="391.85" y="264.00" width="5.73" height="2.40" fill="#a2da37"/><rect x="391.85" y="266.40" width="5.73" height="2.40" fill="#a2da37"/><rect x="391.85" y="271.20" width="5.73" height="2.40" fill="#26ad81"/><rect x="391.85" y="273.60" width="5.73" height="2.40" fill="#a2da37"/><rect x="391.85" y="276.00" width="5.73" height="2.40" fill="#414487"/><rect x="391.85" y="278.40" width="5.73" height="2.40" fill="#2e6f8e"/><rect x="391.85" y="280.80" width="5.73" height="2.40" fill="#75d054"/><rect x="391.85" y="283.20" width="5.73" height="2.40" fill="#75d054"/><rect x="391.85" y="285.60" width="5.73" height="2.40" fill="#26ad81"/><rect x="391.85" y="288.00" width="5.73" height="2.40" fill="#414487"/><rect x="391.85" y="290.40" width="5.73" height="2.40" fill="#cae11f"/><rect x="397.58" y="261.60" width="5.73" height="2.40" fill="#a2da37"/><rect x="397.58" y="264.00" width="5.73" height="2.40" fill="#a2da37"/><rect x="397.58" y="266.40" width="5.73" height="2.40" fill="#a2da37"/><rect x="397.58" y="268.80" width="5.73" height="2.40" fill="#a2da37"/><rect x="397.58" y="271.20" width="5.73" height="2.40" fill="#75d054"/><rect x="397.58" y="273.60" width="5.73" height="2.40" fill="#75d054"/><rect x="397.58" y="276.00" width="5.73" height="2.40" fill="#414487"/><rect x="397.58" y="278.40" width="5.73" height="2.40" fill="#2e6f8e"/><rect x="397.58" y="280.80" width="5.73" height="2.40" fill="#75d054"/><rect x="397.58" y="283.20" width="5.73" height="2.40" fill="#2e6f8e"/><rect x="397.58" y="285.60" width="5.73" height="2.40" fill="#440154"/><rect x="403.32" y="261.60" width="5.73" height="2.40" fill="#a2da37"/><rect x="403.32" y="264.00" width="5.73" height="2.40" fill="#a2da37"/><rect x="403.32" y="266.40" width="5.73" height="2.40" fill="#a2da37"/><rect x="403.32" y="271.20" width="5.73" height="2.40" fill="#75d054"/><rect x="403.32" y="273.60" width="5.73" height="2.40" fill="#75d054"/><rect x="403.32" y="276.00" width="5.73" height="2.40" fill="#2e6f8e"/><rect x="403.32" y="278.40" width="5.73" height="2.40" fill="#1f958b"/><rect x="403.32" y="280.80" width="5.73" height="2.40" fill="#1f958b"/><rect x="403.32" y="283.20" width="5.73" height="2.40" fill="#2e6f8e"/><rect x="403.32" y="285.60" width="5.73" height="2.40" fill="#2e6f8e"/><rect x="409.05" y="261.60" width="5.73" height="2.40" fill="#a2da37"/><rect x="409.05" y="264.00" width="5.73" height="2.40" fill="#a2da37"/><rect x="409.05" y="266.40" width="5.73" height="2.40" fill="#a2da37"/><rect x="409.05" y="268.80" width="5.73" height="2.40" fill="#a2da37"/><rect x="409.05" y="271.20" width="5.73" height="2.40" fill="#75d054"/><rect x="409.05" y="273.60" width="5.73" height="2.40" fill="#75d054"/><rect x="409.05" y="276.00" width="5.73" height="2.40" fill="#2e6f8e"/><rect x="409.05" y="278.40" width="5.73" height="2.40" fill="#2e6f8e"/><rect x="409.05" y="280.80" width="5.73" height="2.40" fill="#1f958b"/><rect x="409.05" y="283.20" width="5.73" height="2.40" fill="#1f958b"/><rect x="409.05" y="285.60" width="5.73" height="2.40" fill="#2e6f8e"/><rect x="414.78" y="259.20" width="5.73" height="2.40" fill="#75d054"/><rect x="414.78" y="264.00" width="5.73" height="2.40" fill="#a2da37"/><rect x="414.78" y="266.40" width="5.73" height="2.40" fill="#a2da37"/><rect x="414.78" y="268.80" width="5.73" height="2.40" fill="#26ad81"/><rect x="414.78" y="271.20" width="5.73" height="2.40" fill="#26ad81"/><rect x="414.78" y="273.60" width="5.73" height="2.40" fill="#26ad81"/><rect x="414.78" y="276.00" width="5.73" height="2.40" fill="#2e6f8e"/><rect x="414.78" y="278.40" width="5.73" height="2.40" fill="#2e6f8e"/><rect x="414.78" y="280.80" width="5.73" height="2.40" fill="#75d054"/><rect x="420.51" y="256.80" width="5.73" height="2.40" fill="#75d054"/><rect x="420.51" y="264.00" width="5.73" height="2.40" fill="#a2da37"/><rect x="420.51" y="266.40" width="5.73" height="2.40" fill="#a2da37"/><rect x="420.51" y="268.80" width="5.73" height="2.40" fill="#1f958b"/><rect x="420.51" y="271.20" width="5.73" height="2.40" fill="#1f958b"/><rect x="420.51" y="273.60" width="5.73" height="2.40" fill="#26ad81"/><rect x="420.51" y="276.00" width="5.73" height="2.40" fill="#2e6f8e"/><rect x="420.51" y="278.40" width="5.73" height="2.40" fill="#2e6f8e"/><rect x="426.25" y="256.80" width="5.73" height="2.40" fill="#75d054"/><rect x="426.25" y="264.00" width="5.73" height="2.40" fill="#75d054"/><rect x="426.25" y="266.40" width="5.73" height="2.40" fill="#26ad81"/><rect x="426.25" y="268.80" width="5.73" height="2.40" fill="#26ad81"/><rect x="426.25" y="271.20" width="5.73" height="2.40" fill="#1f958b"/><rect x="426.25" y="273.60" width="5.73" height="2.40" fill="#1f958b"/><rect x="426.25" y="276.00" width="5.73" height="2.40" fill="#26ad81"/><rect x="426.25" y="278.40" width="5.73" height="2.40" fill="#75d054"/><rect x="431.98" y="254.40" width="5.73" height="2.40" fill="#cae11f"/><rect x="431.98" y="256.80" width="5.73" height="2.40" fill="#cae11f"/><rect x="431.98" y="261.60" width="5.73" height="2.40" fill="#75d054"/><rect x="431.98" y="264.00" width="5.73" height="2.40" fill="#1f958b"/><rect x="431.98" y="266.40" width="5.73" height="2.40" fill="#2e6f8e"/><rect x="431.98" y="268.80" width="5.73" height="2.40" fill="#2e6f8e"/><rect x="431.98" y="271.20" width="5.73" height="2.40" fill="#482475"/><rect x="431.98" y="273.60" width="5.73" height="2.40" fill="#26ad81"/><rect x="437.71" y="254.40" width="5.73" height="2.40" fill="#cae11f"/><rect x="437.71" y="256.80" width="5.73" height="2.40" fill="#cae11f"/><rect x="437.71" y="261.60" width="5.73" height="2.40" fill="#75d054"/><rect x="437.71" y="264.00" width="5.73" height="2.40" fill="#2e6f8e"/><rect x="437.71" y="266.40" width="5.73" height="2.40" fill="#440154"/><rect x="437.71" y="268.80" width="5.73" height="2.40" fill="#440154"/><rect x="443.45" y="252.00" width="5.73" height="2.40" fill="#cae11f"/><rect x="443.45" y="254.40" width="5.73" height="2.40" fill="#cae11f"/><rect x="443.45" y="259.20" width="5.73" height="2.40" fill="#26ad81"/><rect x="443.45" y="261.60" width="5.73" height="2.40" fill="#440154"/><rect x="443.45" y="264.00" width="5.73" height="2.40" fill="#2e6f8e"/><rect x="443.45" y="266.40" width="5.73" height="2.40" fill="#2e6f8e"/><rect x="449.18" y="249.60" width="5.73" height="2.40" fill="#75d054"/><rect x="449.18" y="256.80" width="5.73" height="2.40" fill="#26ad81"/><rect x="449.18" y="259.20" width="5.73" height="2.40" fill="#440154"/><rect x="449.18" y="261.60" width="5.73" height="2.40" fill="#440154"/><rect x="454.91" y="247.20" width="5.73" height="2.40" fill="#75d054"/><rect x="454.91" y="254.40" width="5.73" height="2.40" fill="#cae11f"/><rect x="454.91" y="256.80" width="5.73" height="2.40" fill="#440154"/><rect x="454.91" y="259.20" width="5.73" height="2.40" fill="#482475"/><rect x="460.64" y="247.20" width="5.73" height="2.40" fill="#75d054"/><rect x="460.64" y="254.40" width="5.73" height="2.40" fill="#440154"/><rect x="460.64" y="256.80" width="5.73" height="2.40" fill="#440154"/><rect x="466.38" y="244.80" width="5.73" height="2.40" fill="#75d054"/><rect x="466.38" y="252.00" width="5.73" height="2.40" fill="#75d054"/><rect x="466.38" y="254.40" width="5.73" height="2.40" fill="#440154"/><rect x="472.11" y="242.40" width="5.73" height="2.40" fill="#75d054"/><rect x="472.11" y="249.60" width="5.73" height="2.40" fill="#75d054"/><rect x="472.11" y="252.00" width="5.73" height="2.40" fill="#440154"/><rect x="472.11" y="254.40" width="5.73" height="2.40" fill="#75d054"/><rect x="477.84" y="242.40" width="5.73" height="2.40" fill="#75d054"/><rect x="477.84" y="247.20" width="5.73" height="2.40" fill="#cae11f"/><rect x="477.84" y="249.60" width="5.73" height="2.40" fill="#440154"/><rect x="477.84" y="252.00" width="5.73" height="2.40" fill="#440154"/><rect x="483.57" y="240.00" width="5.73" height="2.40" fill="#75d054"/><rect x="483.57" y="247.20" width="5.73" height="2.40" fill="#440154"/><rect x="483.57" y="249.60" width="5.73" height="2.40" fill="#440154"/><rect x="489.31" y="240.00" width="5.73" height="2.40" fill="#75d054"/><rect x="489.31" y="247.20" width="5.73" height="2.40" fill="#440154"/><rect x="489.31" y="249.60" width="5.73" height="2.40" fill="#440154"/><rect x="495.04" y="240.00" width="5.73" height="2.40" fill="#75d054"/><rect x="495.04" y="244.80" width="5.73" height="2.40" fill="#440154"/><rect x="495.04" y="247.20" width="5.73" height="2.40" fill="#440154"/><rect x="500.77" y="240.00" width="5.73" height="2.40" fill="#75d054"/><rect x="500.77" y="242.40" width="5.73" height="2.40" fill="#26ad81"/><rect x="500.77" y="244.80" width="5.73" height="2.40" fill="#440154"/><rect x="506.51" y="237.60" width="5.73" height="2.40" fill="#75d054"/><rect x="506.51" y="240.00" width="5.73" height="2.40" fill="#1f958b"/><rect x="506.51" y="242.40" width="5.73" height="2.40" fill="#440154"/><rect x="506.51" y="244.80" width="5.73" height="2.40" fill="#a2da37"/><rect x="512.24" y="237.60" width="5.73" height="2.40" fill="#75d054"/><rect x="512.24" y="240.00" width="5.73" height="2.40" fill="#440154"/><rect x="512.24" y="242.40" width="5.73" height="2.40" fill="#2e6f8e"/><rect x="517.97" y="237.60" width="5.73" height="2.40" fill="#2e6f8e"/><rect x="517.97" y="240.00" width="5.73" height="2.40" fill="#440154"/><rect x="517.97" y="242.40" width="5.73" height="2.40" fill="#cae11f"/><rect x="523.70" y="237.60" width="5.73" height="2.40" fill="#1f958b"/><rect x="523.70" y="240.00" width="5.73" height="2.40" fill="#440154"/><rect x="529.44" y="237.60" width="5.73" height="2.40" fill="#75d054"/><rect x="529.44" y="240.00" width="5.73" height="2.40" fill="#440154"/><rect x="535.17" y="240.00" width="5.73" height="2.40" fill="#1f958b"/><rect x="535.17" y="242.40" width="5.73" height="2.40" fill="#440154"/><rect x="535.17" y="244.80" width="5.73" height="2.40" fill="#75d054"/><rect x="540.90" y="242.40" width="5.73" height="2.40" fill="#75d054"/><rect x="540.90" y="244.80" width="5.73" height="2.40" fill="#440154"/><rect x="540.90" y="247.20" width="5.73" height="2.40" fill="#440154"/><rect x="540.90" y="249.60" width="5.73" height="2.40" fill="#75d054"/><rect x="546.63" y="247.20" width="5.73" height="2.40" fill="#1f958b"/><rect x="546.63" y="249.60" width="5.73" height="2.40" fill="#440154"/><rect x="546.63" y="252.00" width="5.73" height="2.40" fill="#440154"/><rect x="552.37" y="249.60" width="5.73" height="2.40" fill="#75d054"/><rect x="552.37" y="252.00" width="5.73" height="2.40" fill="#2e6f8e"/><rect x="552.37" y="254.40" width="5.73" height="2.40" fill="#440154"/><rect x="552.37" y="256.80" width="5.73" height="2.40" fill="#440154"/><rect x="558.10" y="249.60" width="5.73" height="2.40" fill="#a2da37"/><rect x="558.10" y="252.00" width="5.73" height="2.40" fill="#a2da37"/><rect x="558.10" y="254.40" width="5.73" height="2.40" fill="#2e6f8e"/><rect x="558.10" y="256.80" width="5.73" height="2.40" fill="#75d054"/><rect x="558.10" y="259.20" width="5.73" height="2.40" fill="#440154"/><rect x="558.10" y="261.60" width="5.73" height="2.40" fill="#440154"/><rect x="558.10" y="264.00" width="5.73" height="2.40" fill="#cae11f"/><rect x="563.83" y="247.20" width="5.73" height="2.40" fill="#a2da37"/><rect x="563.83" y="249.60" width="5.73" height="2.40" fill="#a2da37"/><rect x="563.83" y="254.40" width="5.73" height="2.40" fill="#26ad81"/><rect x="563.83" y="256.80" width="5.73" height="2.40" fill="#26ad81"/><rect x="563.83" y="259.20" width="5.73" height="2.40" fill="#75d054"/><rect x="563.83" y="261.60" width="5.73" height="2.40" fill="#2e6f8e"/><rect x="563.83" y="264.00" width="5.73" height="2.40" fill="#440154"/><rect x="563.83" y="266.40" width="5.73" height="2.40" fill="#cae11f"/><rect x="569.57" y="242.40" width="5.73" height="2.40" fill="#cae11f"/><rect x="569.57" y="247.20" width="5.73" height="2.40" fill="#a2da37"/><rect x="569.57" y="252.00" width="5.73" height="2.40" fill="#a2da37"/><rect x="569.57" y="256.80" width="5.73" height="2.40" fill="#26ad81"/><rect x="569.57" y="259.20" width="5.73" height="2.40" fill="#1f958b"/><rect x="569.57" y="261.60" width="5.73" height="2.40" fill="#1f958b"/><rect x="569.57" y="264.00" width="5.73" height="2.40" fill="#440154"/><rect x="569.57" y="266.40" width="5.73" height="2.40" fill="#26ad81"/><rect x="569.57" y="268.80" width="5.73" height="2.40" fill="#cae11f"/><rect x="575.30" y="240.00" width="5.73" height="2.40" fill="#cae11f"/><rect x="575.30" y="244.80" width="5.73" height="2.40" fill="#a2da37"/><rect x="575.30" y="252.00" width="5.73" height="2.40" fill="#a2da37"/><rect x="575.30" y="256.80" width="5.73" height="2.40" fill="#26ad81"/><rect x="575.30" y="259.20" width="5.73" height="2.40" fill="#1f958b"/><rect x="575.30" y="261.60" width="5.73" height="2.40" fill="#2e6f8e"/><rect x="575.30" y="264.00" width="5.73" height="2.40" fill="#440154"/><rect x="575.30" y="266.40" width="5.73" height="2.40" fill="#26ad81"/><rect x="575.30" y="268.80" width="5.73" height="2.40" fill="#cae11f"/><rect x="581.03" y="230.40" width="5.73" height="2.40" fill="#cae11f"/><rect x="581.03" y="237.60" width="5.73" height="2.40" fill="#cae11f"/><rect x="581.03" y="249.60" width="5.73" height="2.40" fill="#a2da37"/><rect x="581.03" y="254.40" width="5.73" height="2.40" fill="#cae11f"/><rect x="581.03" y="256.80" width="5.73" height="2.40" fill="#26ad81"/><rect x="581.03" y="259.20" width="5.73" height="2.40" fill="#1f958b"/><rect x="581.03" y="261.60" width="5.73" height="2.40" fill="#1f958b"/><rect x="581.03" y="264.00" width="5.73" height="2.40" fill="#440154"/><rect x="581.03" y="266.40" width="5.73" height="2.40" fill="#75d054"/><rect x="586.76" y="232.80" width="5.73" height="2.40" fill="#cae11f"/><rect x="586.76" y="247.20" width="5.73" height="2.40" fill="#cae11f"/><rect x="586.76" y="249.60" width="5.73" height="2.40" fill="#a2da37"/><rect x="586.76" y="252.00" width="5.73" height="2.40" fill="#a2da37"/><rect x="586.76" y="254.40" width="5.73" height="2.40" fill="#a2da37"/><rect x="586.76" y="256.80" width="5.73" height="2.40" fill="#440154"/><rect x="586.76" y="259.20" width="5.73" height="2.40" fill="#75d054"/><rect x="586.76" y="261.60" width="5.73" height="2.40" fill="#440154"/><rect x="586.76" y="264.00" width="5.73" height="2.40" fill="#26ad81"/><rect x="592.50" y="220.80" width="5.73" height="2.40" fill="#cae11f"/><rect x="592.50" y="244.80" width="5.73" height="2.40" fill="#cae11f"/><rect x="592.50" y="249.60" width="5.73" height="2.40" fill="#cae11f"/><rect x="592.50" y="254.40" width="5.73" height="2.40" fill="#26ad81"/><rect x="592.50" y="256.80" width="5.73" height="2.40" fill="#2e6f8e"/><rect x="592.50" y="259.20" width="5.73" height="2.40" fill="#440154"/><rect x="592.50" y="261.60" width="5.73" height="2.40" fill="#26ad81"/><rect x="598.23" y="218.40" width="5.73" height="2.40" fill="#cae11f"/><rect x="598.23" y="225.60" width="5.73" height="2.40" fill="#cae11f"/><rect x="598.23" y="242.40" width="5.73" height="2.40" fill="#cae11f"/><rect x="598.23" y="244.80" width="5.73" height="2.40" fill="#cae11f"/><rect x="598.23" y="249.60" width="5.73" height="2.40" fill="#a2da37"/><rect x="598.23" y="252.00" width="5.73" height="2.40" fill="#26ad81"/><rect x="598.23" y="254.40" width="5.73" height="2.40" fill="#440154"/><rect x="598.23" y="256.80" width="5.73" height="2.40" fill="#75d054"/><rect x="603.96" y="218.40" width="5.73" height="2.40" fill="#cae11f"/><rect x="603.96" y="223.20" width="5.73" height="2.40" fill="#cae11f"/><rect x="603.96" y="242.40" width="5.73" height="2.40" fill="#a2da37"/><rect x="603.96" y="247.20" width="5.73" height="2.40" fill="#a2da37"/><rect x="603.96" y="249.60" width="5.73" height="2.40" fill="#26ad81"/><rect x="603.96" y="252.00" width="5.73" height="2.40" fill="#2e6f8e"/><rect x="603.96" y="254.40" width="5.73" height="2.40" fill="#440154"/><rect x="609.69" y="218.40" width="5.73" height="2.40" fill="#cae11f"/><rect x="609.69" y="220.80" width="5.73" height="2.40" fill="#a2da37"/><rect x="609.69" y="242.40" width="5.73" height="2.40" fill="#a2da37"/><rect x="609.69" y="247.20" width="5.73" height="2.40" fill="#1f958b"/><rect x="609.69" y="249.60" width="5.73" height="2.40" fill="#26ad81"/><rect x="609.69" y="252.00" width="5.73" height="2.40" fill="#440154"/><rect x="609.69" y="254.40" width="5.73" height="2.40" fill="#75d054"/><rect x="615.43" y="220.80" width="5.73" height="2.40" fill="#a2da37"/><rect x="615.43" y="225.60" width="5.73" height="2.40" fill="#cae11f"/><rect x="615.43" y="242.40" width="5.73" height="2.40" fill="#a2da37"/><rect x="615.43" y="244.80" width="5.73" height="2.40" fill="#26ad81"/><rect x="615.43" y="247.20" width="5.73" height="2.40" fill="#2e6f8e"/><rect x="615.43" y="249.60" width="5.73" height="2.40" fill="#440154"/><rect x="621.16" y="223.20" width="5.73" height="2.40" fill="#cae11f"/><rect x="621.16" y="240.00" width="5.73" height="2.40" fill="#a2da37"/><rect x="621.16" y="242.40" width="5.73" height="2.40" fill="#26ad81"/><rect x="621.16" y="244.80" width="5.73" height="2.40" fill="#26ad81"/><rect x="621.16" y="247.20" width="5.73" height="2.40" fill="#440154"/><rect x="621.16" y="249.60" width="5.73" height="2.40" fill="#26ad81"/><rect x="626.89" y="228.00" width="5.73" height="2.40" fill="#cae11f"/><rect x="626.89" y="230.40" width="5.73" height="2.40" fill="#cae11f"/><rect x="626.89" y="237.60" width="5.73" height="2.40" fill="#a2da37"/><rect x="626.89" y="240.00" width="5.73" height="2.40" fill="#26ad81"/><rect x="626.89" y="242.40" width="5.73" height="2.40" fill="#26ad81"/><rect x="626.89" y="244.80" width="5.73" height="2.40" fill="#440154"/><rect x="632.63" y="230.40" width="5.73" height="2.40" fill="#cae11f"/><rect x="632.63" y="237.60" width="5.73" height="2.40" fill="#26ad81"/><rect x="632.63" y="240.00" width="5.73" height="2.40" fill="#440154"/><rect x="632.63" y="242.40" width="5.73" height="2.40" fill="#440154"/><rect x="632.63" y="244.80" width="5.73" height="2.40" fill="#26ad81"/><rect x="638.36" y="230.40" width="5.73" height="2.40" fill="#cae11f"/><rect x="638.36" y="232.80" width="5.73" height="2.40" fill="#26ad81"/><rect x="638.36" y="235.20" width="5.73" height="2.40" fill="#440154"/><rect x="638.36" y="237.60" width="5.73" height="2.40" fill="#440154"/><rect x="638.36" y="240.00" width="5.73" height="2.40" fill="#26ad81"/><rect x="644.09" y="228.00" width="5.73" height="2.40" fill="#75d054"/><rect x="644.09" y="230.40" width="5.73" height="2.40" fill="#26ad81"/><rect x="644.09" y="232.80" width="5.73" height="2.40" fill="#440154"/><rect x="644.09" y="235.20" width="5.73" height="2.40" fill="#440154"/><rect x="644.09" y="237.60" width="5.73" height="2.40" fill="#26ad81"/><rect x="649.82" y="230.40" width="5.73" height="2.40" fill="#26ad81"/><rect x="649.82" y="232.80" width="5.73" height="2.40" fill="#440154"/><rect x="649.82" y="235.20" width="5.73" height="2.40" fill="#440154"/><rect x="649.82" y="237.60" width="5.73" height="2.40" fill="#75d054"/><rect x="655.56" y="225.60" width="5.73" height="2.40" fill="#2e6f8e"/><rect x="655.56" y="228.00" width="5.73" height="2.40" fill="#440154"/><rect x="655.56" y="230.40" width="5.73" height="2.40" fill="#440154"/><rect x="655.56" y="232.80" width="5.73" height="2.40" fill="#26ad81"/><rect x="661.29" y="225.60" width="5.73" height="2.40" fill="#2e6f8e"/><rect x="661.29" y="228.00" width="5.73" height="2.40" fill="#440154"/><rect x="661.29" y="230.40" width="5.73" height="2.40" fill="#75d054"/><rect x="667.02" y="223.20" width="5.73" height="2.40" fill="#26ad81"/><rect x="667.02" y="225.60" width="5.73" height="2.40" fill="#440154"/><rect x="672.75" y="218.40" width="5.73" height="2.40" fill="#75d054"/><rect x="672.75" y="220.80" width="5.73" height="2.40" fill="#440154"/><rect x="672.75" y="223.20" width="5.73" height="2.40" fill="#440154"/><rect x="678.49" y="216.00" width="5.73" height="2.40" fill="#26ad81"/><rect x="678.49" y="218.40" width="5.73" height="2.40" fill="#440154"/><rect x="678.49" y="220.80" width="5.73" height="2.40" fill="#2e6f8e"/><rect x="684.22" y="213.60" width="5.73" height="2.40" fill="#75d054"/><rect x="684.22" y="216.00" width="5.73" height="2.40" fill="#440154"/><rect x="684.22" y="218.40" width="5.73" height="2.40" fill="#440154"/><rect x="689.95" y="211.20" width="5.73" height="2.40" fill="#26ad81"/><rect x="689.95" y="213.60" width="5.73" height="2.40" fill="#440154"/><rect x="689.95" y="216.00" width="5.73" height="2.40" fill="#440154"/><rect x="689.95" y="218.40" width="5.73" height="2.40" fill="#cae11f"/><rect x="695.69" y="208.80" width="5.73" height="2.40" fill="#75d054"/><rect x="695.69" y="211.20" width="5.73" height="2.40" fill="#440154"/><rect x="695.69" y="213.60" width="5.73" height="2.40" fill="#440154"/><rect x="695.69" y="216.00" width="5.73" height="2.40" fill="#26ad81"/><rect x="701.42" y="206.40" width="5.73" height="2.40" fill="#440154"/><rect x="701.42" y="208.80" width="5.73" height="2.40" fill="#440154"/><rect x="701.42" y="211.20" width="5.73" height="2.40" fill="#2e6f8e"/><rect x="701.42" y="213.60" width="5.73" height="2.40" fill="#75d054"/><rect x="707.15" y="204.00" width="5.73" height="2.40" fill="#440154"/><rect x="707.15" y="206.40" width="5.73" height="2.40" fill="#440154"/><rect x="707.15" y="208.80" width="5.73" height="2.40" fill="#2e6f8e"/><rect x="707.15" y="211.20" width="5.73" height="2.40" fill="#cae11f"/><rect x="712.88" y="199.20" width="5.73" height="2.40" fill="#26ad81"/><rect x="712.88" y="201.60" width="5.73" height="2.40" fill="#440154"/><rect x="712.88" y="204.00" width="5.73" height="2.40" fill="#440154"/><rect x="712.88" y="206.40" width="5.73" height="2.40" fill="#a2da37"/><rect x="718.62" y="194.40" width="5.73" height="2.40" fill="#cae11f"/><rect x="718.62" y="199.20" width="5.73" height="2.40" fill="#440154"/><rect x="718.62" y="201.60" width="5.73" height="2.40" fill="#440154"/><rect x="718.62" y="204.00" width="5.73" height="2.40" fill="#75d054"/><rect x="724.35" y="189.60" width="5.73" height="2.40" fill="#75d054"/><rect x="724.35" y="194.40" width="5.73" height="2.40" fill="#440154"/><rect x="724.35" y="196.80" width="5.73" height="2.40" fill="#440154"/><rect x="724.35" y="199.20" width="5.73" height="2.40" fill="#26ad81"/><rect x="730.08" y="189.60" width="5.73" height="2.40" fill="#75d054"/><rect x="730.08" y="192.00" width="5.73" height="2.40" fill="#440154"/><rect x="730.08" y="194.40" width="5.73" height="2.40" fill="#440154"/><rect x="730.08" y="196.80" width="5.73" height="2.40" fill="#26ad81"/><rect x="735.82" y="187.20" width="5.73" height="2.40" fill="#26ad81"/><rect x="735.82" y="189.60" width="5.73" height="2.40" fill="#26ad81"/><rect x="735.82" y="192.00" width="5.73" height="2.40" fill="#440154"/><rect x="735.82" y="194.40" width="5.73" height="2.40" fill="#440154"/><rect x="741.55" y="187.20" width="5.73" height="2.40" fill="#26ad81"/><rect x="741.55" y="189.60" width="5.73" height="2.40" fill="#26ad81"/><rect x="741.55" y="192.00" width="5.73" height="2.40" fill="#2e6f8e"/><rect x="741.55" y="194.40" width="5.73" height="2.40" fill="#2e6f8e"/><rect x="747.28" y="180.00" width="5.73" height="2.40" fill="#1f958b"/><rect x="747.28" y="182.40" width="5.73" height="2.40" fill="#440154"/><rect x="747.28" y="184.80" width="5.73" height="2.40" fill="#440154"/><rect x="747.28" y="187.20" width="5.73" height="2.40" fill="#75d054"/><rect x="747.28" y="189.60" width="5.73" height="2.40" fill="#a2da37"/><rect x="753.01" y="180.00" width="5.73" height="2.40" fill="#26ad81"/><rect x="753.01" y="182.40" width="5.73" height="2.40" fill="#440154"/><rect x="753.01" y="184.80" width="5.73" height="2.40" fill="#440154"/><rect x="753.01" y="187.20" width="5.73" height="2.40" fill="#75d054"/></g>
</g>
<path d="M260.50 60.50V420.50M413.50 60.50V420.50M565.50 60.50V420.50M717.50 60.50V420.50M154.50 60.50V420.50M181.50 60.50V420.50M200.50 60.50V420.50M215.50 60.50V420.50M227.50 60.50V420.50M237.50 60.50V420.50M246.50 60.50V420.50M253.50 60.50V420.50M306.50 60.50V420.50M333.50 60.50V420.50M352.50 60.50V420.50M367.50 60.50V420.50M379.50 60.50V420.50M389.50 60.50V420.50M398.50 60.50V420.50M406.50 60.50V420.50M459.50 60.50V420.50M485.50 60.50V420.50M505.50 60.50V420.50M519.50 60.50V420.50M531.50 60.50V420.50M542.50 60.50V420.50M550.50 60.50V420.50M558.50 60.50V420.50M611.50 60.50V420.50M638.50 60.50V420.50M657.50 60.50V420.50M672.50 60.50V420.50M684.50 60.50V420.50M694.50 60.50V420.50M703.50 60.50V420.50M711.50 60.50V420.50M108.50 84.50H756.50M108.50 132.50H756.50M108.50 180.50H756.50M108.50 228.50H756.50M108.50 276.50H756.50M108.50 324.50H756.50M108.50 372.50H756.50" stroke="#b0b0b0" stroke-width="1.0" fill="none"/>
<g clip-path="url(#axclip)"><path d="M260.43 343.20 L295.54 340.08 L352.15 340.07 L398.02 346.08 L427.01 332.87 L470.71 296.75 L509.29 278.64 L519.27 278.63 L531.33 297.60 L565.13 333.00 L577.19 338.99 L594.55 329.11 L617.00 366.01 L641.26 383.99 L664.65 390.00 L693.88 390.00 L718.14 384.00 L746.05 383.97 L796.07 389.98 L836.03 382.51" stroke="#666" stroke-width="2.78" fill="none" stroke-linejoin="round" stroke-linecap="square"/>
<path d="M260.43 159.60 L312.60 173.77 L337.39 205.20 L398.02 228.00 L501.11 175.19 L513.75 171.59 L534.56 182.40 L549.53 212.39 L593.70 228.01 L610.99 272.39 L801.27 242.41" stroke="#666" stroke-width="2.78" fill="none" stroke-linejoin="round" stroke-linecap="square"/></g>
<rect x="108.50" y="60.50" width="648.00" height="360.00" fill="none" stroke="#000" stroke-width="1.11"/>
<path d="M108.50 420.50v4.86M260.50 420.50v4.86M413.50 420.50v4.86M565.50 420.50v4.86M717.50 420.50v4.86M154.50 420.50v2.78M181.50 420.50v2.78M200.50 420.50v2.78M215.50 420.50v2.78M227.50 420.50v2.78M237.50 420.50v2.78M246.50 420.50v2.78M253.50 420.50v2.78M306.50 420.50v2.78M333.50 420.50v2.78M352.50 420.50v2.78M367.50 420.50v2.78M379.50 420.50v2.78M389.50 420.50v2.78M398.50 420.50v2.78M406.50 420.50v2.78M459.50 420.50v2.78M485.50 420.50v2.78M505.50 420.50v2.78M519.50 420.50v2.78M531.50 420.50v2.78M542.50 420.50v2.78M550.50 420.50v2.78M558.50 420.50v2.78M611.50 420.50v2.78M638.50 420.50v2.78M657.50 420.50v2.78M672.50 420.50v2.78M684.50 420.50v2.78M694.50 420.50v2.78M703.50 420.50v2.78M711.50 420.50v2.78M108.50 84.50h-4.86M108.50 132.50h-4.86M108.50 180.50h-4.86M108.50 228.50h-4.86M108.50 276.50h-4.86M108.50 324.50h-4.86M108.50 372.50h-4.86M108.50 420.50h-4.86M815.5 420.50h4.86M815.5 360.50h4.86M815.5 300.50h4.86M815.5 240.50h4.86M815.5 180.50h4.86M815.5 120.50h4.86M815.5 60.50h4.86" stroke="#000" stroke-width="1.11" fill="none"/>
<text x="137.50" y="52.00" text-anchor="start" textLength="87.6" lengthAdjust="spacingAndGlyphs">ME.BEY..EHZ</text>
<text x="237.80" y="52.00" text-anchor="start" textLength="57.6" lengthAdjust="spacingAndGlyphs">100.0Hz</text>
<text x="308.20" y="52.00" text-anchor="start" textLength="314.0" lengthAdjust="spacingAndGlyphs">2026-02-26T00:00:05 - 2026-02-26T22:30:05</text>
<text x="635.80" y="52.00" text-anchor="start" textLength="89.8" lengthAdjust="spacingAndGlyphs">46 segments</text>
<rect x="230.25" y="41.5" width="1.3" height="13.5" fill="#000"/>
<rect x="301.15" y="41.5" width="1.3" height="13.5" fill="#000"/>
<rect x="628.65" y="41.5" width="1.3" height="13.5" fill="#000"/>
<text x="97.00" y="89.00" text-anchor="end" textLength="26.1" lengthAdjust="spacingAndGlyphs">−60</text>
<text x="97.00" y="137.00" text-anchor="end" textLength="26.1" lengthAdjust="spacingAndGlyphs">−80</text>
<text x="97.00" y="185.00" text-anchor="end" textLength="34.7" lengthAdjust="spacingAndGlyphs">−100</text>
<text x="97.00" y="233.00" text-anchor="end" textLength="34.7" lengthAdjust="spacingAndGlyphs">−120</text>
<text x="97.00" y="281.00" text-anchor="end" textLength="34.7" lengthAdjust="spacingAndGlyphs">−140</text>
<text x="97.00" y="329.00" text-anchor="end" textLength="34.7" lengthAdjust="spacingAndGlyphs">−160</text>
<text x="97.00" y="377.00" text-anchor="end" textLength="34.7" lengthAdjust="spacingAndGlyphs">−180</text>
<text x="97.00" y="425.00" text-anchor="end" textLength="34.7" lengthAdjust="spacingAndGlyphs">−200</text>
<text x="108.08" y="441.00" text-anchor="middle" textLength="28.5" lengthAdjust="spacingAndGlyphs">0.01</text>
<text x="260.43" y="441.00" text-anchor="middle" textLength="19.5" lengthAdjust="spacingAndGlyphs">0.1</text>
<text x="412.78" y="441.00" text-anchor="middle" textLength="8.0" lengthAdjust="spacingAndGlyphs">1</text>
<text x="565.13" y="441.00" text-anchor="middle" textLength="17.5" lengthAdjust="spacingAndGlyphs">10</text>
<text x="717.48" y="441.00" text-anchor="middle" textLength="26.3" lengthAdjust="spacingAndGlyphs">100</text>
<text x="432.10" y="459.50" text-anchor="middle" textLength="64.8" lengthAdjust="spacingAndGlyphs">Period [s]</text>
<g transform="translate(49.5 0) rotate(-90)"><text x="-332.20" y="0.00" textLength="73.70" lengthAdjust="spacingAndGlyphs">Amplitude</text><text x="-255.50" y="0.00" textLength="4.50" lengthAdjust="spacingAndGlyphs">[</text><text x="-251.30" y="0.00" textLength="15.10" lengthAdjust="spacingAndGlyphs" font-style="italic">m</text><text x="-236.50" y="-8.60" textLength="6.00" lengthAdjust="spacingAndGlyphs" font-size="9.7">2</text><text x="-233.50" y="0.00" textLength="7.30" lengthAdjust="spacingAndGlyphs">/</text><text x="-227.20" y="0.00" textLength="10.20" lengthAdjust="spacingAndGlyphs" font-style="italic">s</text><text x="-217.30" y="-8.60" textLength="5.80" lengthAdjust="spacingAndGlyphs" font-size="9.7">4</text><text x="-211.00" y="0.00" textLength="7.50" lengthAdjust="spacingAndGlyphs">/</text><text x="-204.50" y="0.00" textLength="17.20" lengthAdjust="spacingAndGlyphs" font-style="italic">Hz</text><text x="-187.50" y="0.00" textLength="3.80" lengthAdjust="spacingAndGlyphs">]</text><text x="-178.80" y="0.00" textLength="28.50" lengthAdjust="spacingAndGlyphs">[dB]</text></g>
<rect x="797.5" y="60.5" width="18" height="360" fill="url(#cbg)" stroke="#000" stroke-width="1.11"/>
<text x="825.50" y="425.50" text-anchor="start" textLength="9.0" lengthAdjust="spacingAndGlyphs">0</text>
<text x="825.50" y="365.50" text-anchor="start" textLength="9.0" lengthAdjust="spacingAndGlyphs">5</text>
<text x="825.50" y="305.50" text-anchor="start" textLength="14.0" lengthAdjust="spacingAndGlyphs">10</text>
<text x="825.50" y="245.50" text-anchor="start" textLength="14.0" lengthAdjust="spacingAndGlyphs">15</text>
<text x="825.50" y="185.50" text-anchor="start" textLength="14.0" lengthAdjust="spacingAndGlyphs">20</text>
<text x="825.50" y="125.50" text-anchor="start" textLength="14.0" lengthAdjust="spacingAndGlyphs">25</text>
<text x="825.50" y="65.50" text-anchor="start" textLength="14.0" lengthAdjust="spacingAndGlyphs">30</text>
<text transform="translate(859 242.5) rotate(-90)" text-anchor="middle">[%]</text>
<rect x="164.5" y="474.5" width="572" height="9.2" fill="#008000"/>
<rect x="164.5" y="483.7" width="559.5" height="14.8" fill="#0000ff"/>
<rect x="135.5" y="474.5" width="630" height="24" fill="none" stroke="#000" stroke-width="1.11"/>
<text transform="translate(162.50 517.2) rotate(-30)" text-anchor="end" textLength="62" lengthAdjust="spacingAndGlyphs" font-size="14.3">02-26 00</text>
<text transform="translate(234.00 517.2) rotate(-30)" text-anchor="end" textLength="62" lengthAdjust="spacingAndGlyphs" font-size="14.3">02-26 03</text>
<text transform="translate(305.50 517.2) rotate(-30)" text-anchor="end" textLength="62" lengthAdjust="spacingAndGlyphs" font-size="14.3">02-26 06</text>
<text transform="translate(377.00 517.2) rotate(-30)" text-anchor="end" textLength="62" lengthAdjust="spacingAndGlyphs" font-size="14.3">02-26 09</text>
<text transform="translate(448.50 517.2) rotate(-30)" text-anchor="end" textLength="62" lengthAdjust="spacingAndGlyphs" font-size="14.3">02-26 12</text>
<text transform="translate(520.00 517.2) rotate(-30)" text-anchor="end" textLength="62" lengthAdjust="spacingAndGlyphs" font-size="14.3">02-26 15</text>
<text transform="translate(591.50 517.2) rotate(-30)" text-anchor="end" textLength="62" lengthAdjust="spacingAndGlyphs" font-size="14.3">02-26 18</text>
<text transform="translate(663.00 517.2) rotate(-30)" text-anchor="end" textLength="62" lengthAdjust="spacingAndGlyphs" font-size="14.3">02-26 21</text>
<text transform="translate(734.50 517.2) rotate(-30)" text-anchor="end" textLength="62" lengthAdjust="spacingAndGlyphs" font-size="14.3">02-27 00</text>
<path d="M164.50 498.5v4.86M236.00 498.5v4.86M307.50 498.5v4.86M379.00 498.5v4.86M450.50 498.5v4.86M522.00 498.5v4.86M593.50 498.5v4.86M665.00 498.5v4.86M736.50 498.5v4.86" stroke="#000" stroke-width="1.11" fill="none"/>
<rect x="0" y="577" width="900" height="23" fill="#808080"/>
<text x="10" y="595" fill="#fff" textLength="532" lengthAdjust="spacingAndGlyphs">Generated by SeedPSD on 2026-03-04 | Calculations updated on 2026-02-27</text>
</svg></body></html>
